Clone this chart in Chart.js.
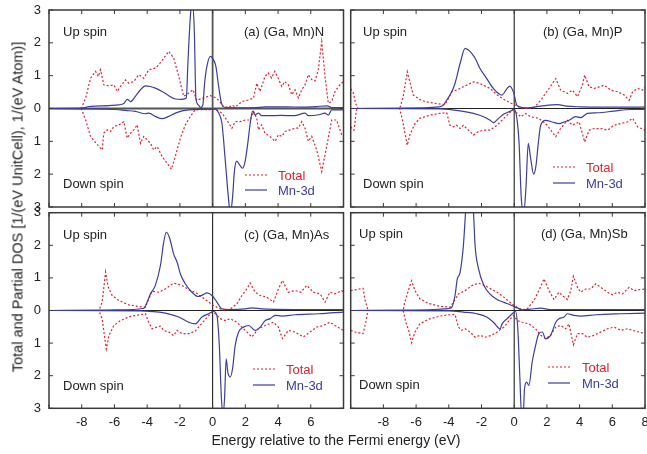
<!DOCTYPE html>
<html>
<head>
<meta charset="utf-8">
<script src="https://cdn.jsdelivr.net/npm/chart.js@4"></script>
<style>
  body { margin: 0; background: #fff; }
  #wrap { position: relative; width: 647px; height: 454px; font-family: 'Liberation Sans', Arial, sans-serif; color: #222; }
  #wrap canvas { position: absolute; left: 0; top: 0; }
  .t { position: absolute; font-size: 13px; line-height: 15px; white-space: nowrap; transform: translateY(-50%); }
  .red { color: #e3202e; }
  .blue { color: #3b3e9c; }
  svg.key { position: absolute; width: 34px; height: 4px; transform: translateY(-50%); }
</style>
</head>
<body>
<div id="wrap">
  <canvas id="ca" width="647" height="454"></canvas>
  <canvas id="cb" width="647" height="454"></canvas>
  <canvas id="cc" width="647" height="454"></canvas>
  <canvas id="cd" width="647" height="454"></canvas>

  <div class="t" style="left:63px;top:31px">Up spin</div>
  <div class="t" style="left:63px;top:183px">Down spin</div>
  <div class="t" style="left:244px;top:31px">(a) (Ga, Mn)N</div>
  <div class="t" style="left:363px;top:31px">Up spin</div>
  <div class="t" style="left:363px;top:183px">Down spin</div>
  <div class="t" style="left:543px;top:31px">(b) (Ga, Mn)P</div>
  <div class="t" style="left:63px;top:234px">Up spin</div>
  <div class="t" style="left:63px;top:385px">Down spin</div>
  <div class="t" style="left:244px;top:234px">(c) (Ga, Mn)As</div>
  <div class="t" style="left:359px;top:233px">Up spin</div>
  <div class="t" style="left:359px;top:384px">Down spin</div>
  <div class="t" style="left:541px;top:233px">(d) (Ga, Mn)Sb</div>

  <svg class="key" style="left:245px;top:175px"><line x1="0" y1="2" x2="22" y2="2" stroke="#e3202e" stroke-width="1.2" stroke-dasharray="2,2"/></svg>
  <div class="t red" style="left:278px;top:175px">Total</div>
  <svg class="key" style="left:245px;top:190px"><line x1="0" y1="2" x2="22" y2="2" stroke="#3b3e9c" stroke-width="1.2"/></svg>
  <div class="t blue" style="left:278px;top:190px">Mn-3d</div>

  <svg class="key" style="left:553px;top:167px"><line x1="0" y1="2" x2="22" y2="2" stroke="#e3202e" stroke-width="1.2" stroke-dasharray="2,2"/></svg>
  <div class="t red" style="left:586px;top:167px">Total</div>
  <svg class="key" style="left:553px;top:183px"><line x1="0" y1="2" x2="22" y2="2" stroke="#3b3e9c" stroke-width="1.2"/></svg>
  <div class="t blue" style="left:586px;top:183px">Mn-3d</div>

  <svg class="key" style="left:253px;top:369px"><line x1="0" y1="2" x2="22" y2="2" stroke="#e3202e" stroke-width="1.2" stroke-dasharray="2,2"/></svg>
  <div class="t red" style="left:286px;top:369px">Total</div>
  <svg class="key" style="left:253px;top:385px"><line x1="0" y1="2" x2="22" y2="2" stroke="#3b3e9c" stroke-width="1.2"/></svg>
  <div class="t blue" style="left:286px;top:385px">Mn-3d</div>

  <svg class="key" style="left:548px;top:367px"><line x1="0" y1="2" x2="22" y2="2" stroke="#e3202e" stroke-width="1.2" stroke-dasharray="2,2"/></svg>
  <div class="t red" style="left:582px;top:367px">Total</div>
  <svg class="key" style="left:548px;top:383px"><line x1="0" y1="2" x2="22" y2="2" stroke="#3b3e9c" stroke-width="1.2"/></svg>
  <div class="t blue" style="left:582px;top:383px">Mn-3d</div>

  <div class="t" style="left:18px;top:207px;font-size:14.5px;transform:translate(-50%,-50%) rotate(-90deg)">Total and Partial DOS [1/(eV UnitCell), 1/(eV Atom)]</div>
  <div class="t" style="left:336px;top:440px;font-size:14px;transform:translate(-50%,-50%)">Energy relative to the Fermi energy (eV)</div>
</div>

<script>
// DOS, [energy (eV), DOS]; down spin stored as magnitude
const aTotUp = [[-10,0],[-8.03,0],[-7.76,0.32],[-7.46,0.92],[-7.15,1.13],[-6.99,0.97],[-6.85,1.18],[-6.65,0.72],[-6.34,0.69],[-6.04,0.72],[-5.83,0.52],[-5.63,0.67],[-5.33,0.87],[-5.12,0.77],[-4.82,0.82],[-4.51,1.03],[-4.21,0.92],[-3.9,1.18],[-3.5,1.23],[-3.29,1.33],[-2.68,1.74],[-2.38,1.54],[-2.07,0.98],[-1.77,0.37],[-1.46,0.47],[-1.2,0.57],[-0.97,0.25],[-0.65,0.31],[-0.14,0.39],[0.26,0.31],[0.67,0.06],[0.98,0.03],[1.18,0.1],[1.38,0.05],[1.79,0.21],[2.2,0.26],[2.5,0.32],[2.7,0.77],[2.9,0.52],[3.2,0.98],[3.4,1.08],[3.6,0.93],[3.8,1.13],[4.0,0.93],[4.23,0.67],[4.4,0.82],[4.63,0.72],[4.84,0.42],[5.04,0.57],[5.24,0.32],[5.45,0.57],[5.65,0.72],[5.85,1.03],[6.06,0.88],[6.26,0.84],[6.46,1.18],[6.67,2.04],[6.87,0.98],[7.07,0.16],[7.28,0.21],[7.48,0.52],[7.78,0.72],[8,0.82]];
const aTotDn = [[-10,0],[-8.03,0],[-7.76,0.35],[-7.46,0.85],[-7.05,1.1],[-6.75,1.26],[-6.65,0.75],[-6.44,0.65],[-6.24,0.7],[-6.04,0.55],[-5.73,0.5],[-5.43,0.4],[-5.22,0.9],[-5.02,0.75],[-4.82,0.65],[-4.61,0.5],[-4.41,1.06],[-4.21,0.85],[-4.0,0.95],[-3.8,1.06],[-3.6,1.26],[-3.39,1.16],[-3.09,1.46],[-2.78,1.67],[-2.52,1.85],[-2.28,1.46],[-1.97,0.9],[-1.67,0.5],[-1.36,0.24],[-1.06,0.04],[0.16,0.03],[0.57,0.14],[0.87,0.35],[1.18,0.6],[1.38,0.4],[1.69,0.4],[1.99,0.35],[2.3,0.35],[2.5,0.09],[2.7,0.3],[2.8,0.65],[3.0,0.5],[3.2,0.75],[3.5,0.85],[3.82,1.0],[4.02,0.8],[4.23,0.85],[4.43,0.7],[4.74,0.65],[5.04,0.6],[5.24,0.6],[5.45,0.4],[5.65,0.6],[5.85,1.0],[6.06,0.85],[6.36,1.26],[6.67,1.92],[6.97,1.16],[7.28,0.35],[7.58,0.35],[7.89,0.8],[8,0.85]];
const aMnUp = [[-10,0],[-8,0.01],[-7.56,0.06],[-6.34,0.09],[-5.73,0.11],[-5.43,0.15],[-5.22,0.28],[-5.02,0.21],[-4.72,0.37],[-4.41,0.57],[-4.11,0.69],[-3.8,0.67],[-3.5,0.62],[-3.09,0.52],[-2.68,0.39],[-2.28,0.29],[-1.87,0.28],[-1.61,0.32],[-1.5,1.5],[-1.36,2.8],[-1.26,3.3],[-1.12,2.4],[-1.02,0.3],[-0.85,0.1],[-0.75,0.03],[-0.6,0.1],[-0.49,0.77],[-0.35,1.28],[-0.14,1.59],[0.06,1.48],[0.2,1.28],[0.37,0.67],[0.57,0.11],[0.77,0.03],[2.5,0.02],[3.2,0.05],[4.5,0.05],[5.5,0.04],[6.3,0.06],[7.0,0.08],[7.3,0.03],[8,0.03]];
const aMnDn = [[-10,0],[-7.97,0.01],[-5.93,0.03],[-5.33,0.06],[-4.72,0.09],[-4.11,0.16],[-3.9,0.14],[-3.5,0.24],[-3.09,0.31],[-2.68,0.24],[-2.28,0.14],[-1.87,0.07],[-1.46,0.04],[0.16,0.02],[0.37,0.14],[0.57,0.45],[0.77,1.56],[0.98,2.8],[1.08,3.2],[1.22,2.7],[1.34,1.87],[1.48,1.6],[1.65,1.72],[1.83,1.82],[1.99,1.6],[2.15,1.06],[2.3,0.45],[2.44,0.09],[2.6,0.19],[2.8,0.14],[3.0,0.22],[3.4,0.22],[4.2,0.21],[5.0,0.22],[5.65,0.14],[5.85,0.22],[6.5,0.19],[6.87,0.14],[7.07,0.2],[7.28,0.04],[8,0.04]];

const bTotUp = [[-10,0.6],[-9.85,0.5],[-9.7,0.15],[-9.55,0],[-7.0,0],[-6.79,0.36],[-6.54,1.12],[-6.38,0.81],[-6.17,0.41],[-5.77,0.27],[-5.36,0.2],[-4.74,0.15],[-4.23,0.12],[-4.03,0.3],[-3.82,0.51],[-3.52,0.56],[-3.11,0.66],[-2.49,0.81],[-2.09,0.76],[-1.47,0.61],[-1.06,0.42],[-0.65,0.28],[-0.22,0.17],[0.08,0.1],[0.39,0.02],[0.8,0],[1.21,0.02],[1.62,0.25],[2.13,0.61],[2.54,0.91],[2.84,0.56],[3.25,0.46],[3.56,0.56],[3.87,0.36],[4.17,0.71],[4.31,1.02],[4.58,0.66],[4.89,0.61],[5.2,0.66],[5.5,0.71],[5.91,0.56],[6.32,0.51],[6.73,0.41],[7.03,0.25],[7.24,0.51],[7.55,0.61],[7.85,0.56],[8,0.66]];
const bTotDn = [[-10,0.56],[-9.8,0.66],[-9.65,0.05],[-9.55,0],[-7.0,0],[-6.79,0.46],[-6.54,1.12],[-6.38,0.8],[-6.07,0.46],[-5.77,0.3],[-5.15,0.2],[-4.54,0.15],[-4.13,0.13],[-3.93,0.51],[-3.72,0.56],[-3.52,0.51],[-3.31,0.61],[-3.11,0.51],[-2.8,0.66],[-2.49,0.81],[-2.19,0.7],[-1.88,0.66],[-1.47,0.66],[-1.06,0.51],[-0.63,0.3],[-0.12,0.05],[0.08,0.1],[0.39,0.25],[0.7,0.15],[1.0,0.25],[1.51,0.3],[2.02,0.51],[2.54,0.86],[2.84,0.61],[3.25,0.36],[3.56,0.51],[3.97,0.41],[4.31,1.02],[4.58,0.66],[4.89,0.61],[5.3,0.61],[5.71,0.66],[6.11,0.51],[6.52,0.46],[6.93,0.41],[7.24,0.3],[7.55,0.56],[8,0.66]];
const bMnUp = [[-10,0],[-7,0.01],[-5.8,0.02],[-4.6,0.05],[-4.34,0.1],[-4.13,0.25],[-3.82,0.51],[-3.62,0.76],[-3.31,1.37],[-3.0,1.83],[-2.8,1.78],[-2.6,1.68],[-2.39,1.53],[-2.09,1.22],[-1.68,0.91],[-1.27,0.61],[-0.75,0.41],[-0.45,0.6],[-0.27,0.68],[-0.02,0.46],[0.16,0.1],[0.49,0.03],[0.8,0.02],[1.6,0.07],[2.64,0.12],[3.2,0.07],[4.07,0.05],[5.1,0.04],[8,0.04]];
const bMnDn = [[-10,0],[-4.5,0.01],[-3.31,0.07],[-2.49,0.15],[-1.88,0.25],[-1.47,0.36],[-1.27,0.43],[-0.96,0.3],[-0.63,0.17],[-0.22,0.08],[0,0.02],[0.18,0.36],[0.3,1.07],[0.43,2.7],[0.58,3.2],[0.72,2.4],[0.86,1.06],[1.0,1.5],[1.19,2.0],[1.33,1.75],[1.47,1.07],[1.62,0.51],[1.92,0.36],[2.33,0.41],[2.74,0.46],[3.05,0.41],[3.35,0.36],[3.76,0.25],[4.07,0.28],[4.48,0.15],[5.09,0.13],[6.1,0.08],[7.14,0.03],[8,0.03]];

const cTotUp = [[-10,0],[-6.95,0],[-6.75,0.26],[-6.54,1.18],[-6.38,0.72],[-6.14,0.46],[-5.73,0.31],[-5.12,0.17],[-4.51,0.12],[-4.11,0.1],[-3.9,0.36],[-3.7,0.59],[-3.29,0.56],[-2.89,0.66],[-2.38,0.84],[-1.87,0.77],[-1.36,0.61],[-1.06,0.56],[-0.65,0.41],[-0.24,0.26],[0.06,0.15],[0.47,0.05],[0.77,0],[1.08,0.05],[1.48,0.2],[1.79,0.46],[2.09,0.66],[2.3,0.84],[2.6,0.56],[2.91,0.46],[3.31,0.41],[3.72,0.26],[4.02,0.66],[4.27,0.92],[4.63,0.56],[5.04,0.61],[5.4,0.56],[5.75,0.77],[6.16,0.56],[6.57,0.51],[6.87,0.26],[7.17,0.56],[7.48,0.51],[7.89,0.61],[8,0.56]];
const cTotDn = [[-10,0],[-6.95,0],[-6.75,0.26],[-6.5,1.18],[-6.34,0.77],[-6.04,0.46],[-5.63,0.31],[-5.02,0.18],[-4.41,0.13],[-4.11,0.1],[-3.9,0.36],[-3.7,0.56],[-3.4,0.51],[-3.19,0.48],[-2.99,0.61],[-2.68,0.66],[-2.38,0.77],[-2.17,0.61],[-1.87,0.71],[-1.46,0.71],[-1.06,0.63],[-0.5,0.3],[-0.04,0.05],[0.16,0.1],[0.47,0.25],[0.77,0.31],[1.08,0.25],[1.48,0.36],[1.99,0.61],[2.4,0.81],[2.8,0.56],[3.21,0.46],[3.72,0.36],[4.02,0.51],[4.27,0.86],[4.63,0.61],[5.04,0.66],[5.55,0.81],[5.96,0.66],[6.36,0.51],[6.77,0.46],[7.17,0.36],[7.48,0.46],[8,0.61]];
const cMnUp = [[-10,0],[-7,0.01],[-5.9,0.02],[-4.2,0.07],[-4.0,0.26],[-3.8,0.51],[-3.5,0.77],[-3.19,1.38],[-2.99,2.09],[-2.83,2.4],[-2.64,2.24],[-2.38,1.73],[-2.17,1.48],[-1.97,1.12],[-1.67,0.82],[-1.26,0.56],[-0.9,0.43],[-0.6,0.48],[-0.35,0.54],[-0.04,0.46],[0.26,0.26],[0.57,0.05],[1.0,0.03],[2.0,0.05],[2.4,0.08],[3.0,0.05],[5.0,0.03],[8,0.03]];
const cMnDn = [[-10,0],[-4.5,0.01],[-2.89,0.08],[-2.07,0.2],[-1.46,0.36],[-1.06,0.41],[-0.65,0.2],[-0.24,0.1],[0.06,0.03],[0.26,0.15],[0.41,1.07],[0.53,2.6],[0.63,3.2],[0.73,2.7],[0.83,1.48],[0.93,1.89],[1.08,2.04],[1.22,1.78],[1.38,1.07],[1.59,0.66],[1.89,0.51],[2.2,0.46],[2.6,0.61],[2.91,0.51],[3.21,0.31],[3.52,0.25],[3.82,0.15],[4.23,0.17],[5.04,0.13],[6.5,0.1],[8,0.05]];

const dTotUp = [[-10,0.61],[-9.45,0.66],[-9.24,0.68],[-9.14,0.36],[-8.94,0],[-6.79,0],[-6.69,0.26],[-6.48,0.61],[-6.28,0.91],[-6.07,0.61],[-5.77,0.36],[-5.26,0.22],[-4.54,0.13],[-3.93,0.1],[-3.72,0.25],[-3.41,0.51],[-3.0,0.61],[-2.6,0.76],[-2.19,0.84],[-1.78,0.76],[-1.37,0.64],[-1.04,0.56],[-0.63,0.41],[-0.22,0.23],[0.18,0.1],[0.49,0.02],[0.8,0.05],[1.21,0.31],[1.51,0.61],[1.82,0.97],[2.13,0.61],[2.43,0.34],[2.74,0.56],[2.95,0.46],[3.25,0.34],[3.46,0.61],[3.62,1.05],[3.87,0.71],[4.07,0.56],[4.38,0.66],[4.68,0.66],[4.99,0.82],[5.3,0.71],[5.71,0.56],[6.01,0.48],[6.32,0.56],[6.62,0.51],[7.03,0.71],[7.34,0.61],[7.65,0.64],[8,0.66]];
const dTotDn = [[-10,0.61],[-9.75,0.66],[-9.24,0.71],[-9.08,0.36],[-8.94,0],[-6.79,0],[-6.63,0.36],[-6.42,0.66],[-6.28,0.99],[-6.07,0.66],[-5.77,0.41],[-5.26,0.27],[-4.54,0.17],[-3.93,0.13],[-3.62,0.12],[-3.41,0.51],[-3.21,0.61],[-3.0,0.56],[-2.7,0.66],[-2.39,0.82],[-2.09,0.76],[-1.78,0.82],[-1.37,0.76],[-1.04,0.66],[-0.63,0.51],[-0.22,0.25],[-0.02,0.15],[0.18,0.31],[0.49,0.36],[0.9,0.41],[1.31,0.56],[1.62,0.76],[1.92,0.86],[2.23,0.76],[2.54,0.51],[2.84,0.46],[3.15,0.56],[3.35,0.41],[3.62,1.05],[3.87,0.71],[4.17,0.71],[4.48,0.82],[4.89,0.76],[5.3,0.66],[5.71,0.56],[6.11,0.51],[6.52,0.61],[6.93,0.56],[7.24,0.61],[7.65,0.66],[8,0.71]];
const dMnUp = [[-10,0],[-7,0.01],[-4.95,0.03],[-4.03,0.06],[-3.82,0.1],[-3.62,0.46],[-3.48,0.97],[-3.31,1.17],[-3.11,1.98],[-2.95,3.2],[-2.75,4.5],[-2.5,3.1],[-2.39,1.98],[-2.19,1.3],[-1.88,0.8],[-1.47,0.5],[-1.06,0.34],[-0.63,0.25],[-0.22,0.17],[0.18,0.08],[0.49,0.02],[1.0,0.04],[1.62,0.07],[2.2,0.03],[4,0.03],[8,0.03]];
const dMnDn = [[-10,0],[-4,0.01],[-3.11,0.05],[-2.29,0.1],[-1.68,0.2],[-1.27,0.36],[-0.86,0.56],[-0.74,0.41],[-0.43,0.25],[-0.12,0.1],[0.08,0.03],[0.22,0.56],[0.35,2.1],[0.45,3.2],[0.55,3.2],[0.63,2.4],[0.76,2.2],[0.9,2.3],[1.1,1.58],[1.31,1.07],[1.51,0.71],[1.72,0.66],[1.92,0.87],[2.23,0.76],[2.54,0.36],[2.74,0.25],[3.05,0.2],[3.25,0.1],[3.66,0.15],[4.07,0.17],[5,0.13],[6.5,0.1],[8,0.08]];

const RED = '#e3202e';
const BLUE = '#3b3e9c';

Chart.defaults.font.family = "'Liberation Sans', Arial, sans-serif";
Chart.defaults.font.size = 13;
Chart.defaults.color = '#222';

// zero lines under the curves, frame + inward ticks on top
const framePlugin = {
    id: 'frame',
    beforeDatasetsDraw(chart, args, opts) {
        const {ctx, chartArea: a, scales: {x, y}} = chart;
        const x0 = x.getPixelForValue(0), y0 = y.getPixelForValue(0);
        ctx.save();
        ctx.strokeStyle = opts.axisColor;
        ctx.lineWidth = opts.axisWidth;
        ctx.beginPath();
        ctx.moveTo(a.left, y0); ctx.lineTo(a.right, y0);
        ctx.moveTo(x0, a.top); ctx.lineTo(x0, a.bottom);
        ctx.stroke();
        ctx.restore();
    },
    afterDatasetsDraw(chart) {
        const {ctx, chartArea: a, scales: {x, y}} = chart;
        ctx.save();
        ctx.strokeStyle = '#3a3a3a';
        ctx.lineWidth = 1.5;
        ctx.strokeRect(a.left, a.top, a.right - a.left, a.bottom - a.top);
        ctx.lineWidth = 1;
        ctx.beginPath();
        x.ticks.forEach(t => {
            const px = x.getPixelForValue(t.value);
            ctx.moveTo(px, a.top); ctx.lineTo(px, a.top + 4);
            ctx.moveTo(px, a.bottom); ctx.lineTo(px, a.bottom - 4);
        });
        y.ticks.forEach(t => {
            const py = y.getPixelForValue(t.value);
            ctx.moveTo(a.left, py); ctx.lineTo(a.left + 4, py);
            ctx.moveTo(a.right, py); ctx.lineTo(a.right - 4, py);
        });
        ctx.stroke();
        ctx.restore();
    }
};

function pts(arr, sign) {
    return arr.map(([e, v]) => ({x: e, y: sign * v}));
}

function makePanel(id, series, cfg) {
    const [totUp, totDn, mnUp, mnDn] = series;
    const total = {borderColor: RED, borderWidth: 1.2, borderDash: [2, 2], pointRadius: 0, tension: 0};
    const mn = {borderColor: BLUE, borderWidth: 1.2, pointRadius: 0, cubicInterpolationMode: 'monotone'};
    new Chart(document.getElementById(id), {
        type: 'line',
        data: {
            datasets: [
                {label: 'Mn-3d', data: pts(mnUp, 1), ...mn},
                {label: 'Mn-3d', data: pts(mnDn, -1), ...mn},
                {label: 'Total', data: pts(totUp, 1), ...total},
                {label: 'Total', data: pts(totDn, -1), ...total}
            ]
        },
        plugins: [framePlugin],
        options: {
            responsive: false,
            animation: false,
            layout: {padding: cfg.padding},
            plugins: {
                legend: {display: false},
                tooltip: {enabled: false},
                frame: {axisColor: cfg.axisColor, axisWidth: cfg.axisWidth}
            },
            scales: {
                x: {
                    type: 'linear', min: -10, max: 8,
                    display: cfg.xLabels,
                    grid: {display: false, drawTicks: false},
                    border: {display: false},
                    ticks: {
                        stepSize: 2, autoSkip: false, maxRotation: 0, padding: 6,
                        callback: v => cfg.hideX.includes(v) ? '' : v
                    },
                    // labels may hang over the panel edges without squeezing the plot
                    afterFit: s => {
                        s.height = cfg.xLabels ? 21.7 : 0;
                        s.paddingLeft = 0; s.paddingRight = 0;
                    }
                },
                y: {
                    min: -3, max: 3,
                    display: cfg.yLabels,
                    grid: {display: false, drawTicks: false},
                    border: {display: false},
                    ticks: {stepSize: 1, padding: 8, callback: v => Math.abs(v)},
                    afterFit: s => {
                        s.width = cfg.yLabels ? 49 : 0;
                        s.paddingTop = 0; s.paddingBottom = 0;
                    }
                }
            }
        }
    });
}

makePanel('ca', [aTotUp, aTotDn, aMnUp, aMnDn], {
    padding: {left: 0, top: 10, right: 303.5, bottom: 247},
    xLabels: false, yLabels: true, hideX: [], axisColor: '#555', axisWidth: 1.8
});
makePanel('cb', [bTotUp, bTotDn, bMnUp, bMnDn], {
    padding: {left: 350.7, top: 10, right: 2, bottom: 247},
    xLabels: false, yLabels: false, hideX: [], axisColor: '#222', axisWidth: 1.1
});
makePanel('cc', [cTotUp, cTotDn, cMnUp, cMnDn], {
    padding: {left: 0, top: 212.7, right: 303.5, bottom: 24},
    xLabels: true, yLabels: true, hideX: [-10, 8], axisColor: '#222', axisWidth: 1.1
});
makePanel('cd', [dTotUp, dTotDn, dMnUp, dMnDn], {
    padding: {left: 350.7, top: 212.7, right: 2, bottom: 24},
    xLabels: true, yLabels: false, hideX: [-10], axisColor: '#222', axisWidth: 1.1
});
</script>
</body>
</html>
